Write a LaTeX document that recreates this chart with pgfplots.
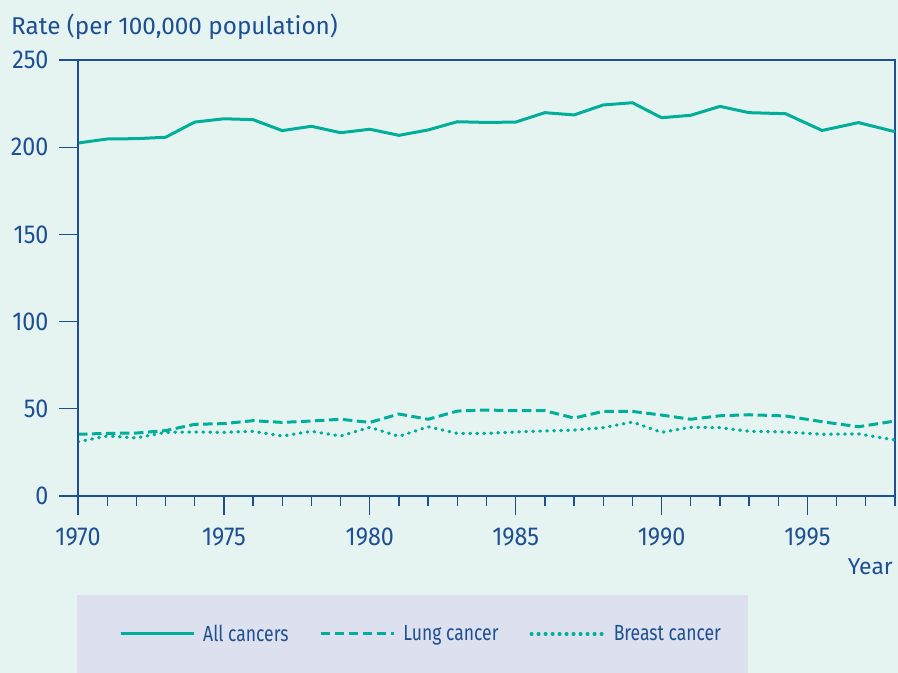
\documentclass[border=0pt]{standalone}
\usepackage{fontspec}
\setmainfont{Fira Sans}
\newfontfamily\condfont{Fira Sans}[FakeStretch=0.9]
\newfontfamily\legfont{Fira Sans}[FakeStretch=0.8]
\usepackage{pgfplots}
\pgfplotsset{compat=1.18}
\definecolor{bgc}{HTML}{E6F4F1}
\definecolor{legbg}{HTML}{DDE0EE}
\definecolor{tealc}{HTML}{00AE9A}
\definecolor{axblue}{HTML}{1D4F93}

\pgfplotstableread{
year all lung breast
1970 202.4 35.4 31.1
1971 204.7 35.9 34.4
1972 204.9 36.1 33.3
1973 205.7 37.5 36.5
1974 214.4 41.1 36.7
1975 216.3 41.5 36.5
1976 215.8 43.2 37.1
1977 209.5 42.2 34.4
1978 212.0 43.0 37.1
1979 208.3 44.0 34.4
1980 210.3 42.2 39.4
1981 206.8 47.0 34.2
1982 209.9 44.0 39.7
1983 214.6 48.7 35.9
1984 214.2 49.3 35.9
1985 214.4 48.9 36.7
1986 219.8 48.9 37.3
1987 218.5 44.7 37.8
1988 224.2 48.5 39.2
1989 225.5 48.5 42.4
1990 216.9 46.4 36.5
1991 218.3 44.0 39.4
1992 223.4 46.0 39.2
1993 219.8 46.6 37.1
1994.25 219.2 45.9 36.7
1995.5 209.6 42.6 35.4
1996.75 214.1 39.7 35.6
1998 208.9 43.0 32.1
}\datatable

\begin{document}
\begin{tikzpicture}
\fill[bgc] (-78bp,-177bp) rectangle (820bp,496bp);
\useasboundingbox (-78bp,-177bp) rectangle (820bp,496bp);
\fill[legbg] (-1bp,-99bp) rectangle (670bp,-177bp);
\begin{axis}[
  at={(0bp,0bp)}, anchor=south west,
  scale only axis, width=817bp, height=436bp,
  xmin=1970, xmax=1998, ymin=0, ymax=250,
  xtick={1970,1975,1980,1985,1990,1995},
  minor xtick={1970,1971,...,1998},
  ytick={0,50,100,150,200,250},
  tick align=outside,
  xtick pos=lower, ytick pos=left,
  major tick length=19bp, minor tick length=10bp,
  tick style={axblue, line width=1.3bp},
  axis line style={axblue, line width=1.2bp},
  /pgf/number format/assume math mode=true,
  /pgf/number format/1000 sep={},
  ticklabel style={font=\condfont\fontsize{26}{26}\selectfont, text=axblue},
  xticklabel style={yshift=-9bp},
  yticklabel style={xshift=-7bp},
  legend columns=3,
  legend cell align=left,
  legend style={at={(axis description cs:0.0502,-0.3165)}, anchor=west,
    draw=none, fill=none, inner sep=0pt,
    font=\legfont\fontsize{22}{22}\selectfont, text=axblue,
    nodes={inner sep=0pt},
    /tikz/every odd column/.append style={column sep=8bp},
    /tikz/every even column/.append style={column sep=31bp}},
  legend image code/.code={\draw[#1] (0bp,0bp) -- (73bp,0bp);},
  after end axis/.code={\draw[axblue, line width=2.6bp] (rel axis cs:0,0) -- (rel axis cs:0,1);
     \draw[axblue, line width=2bp] (rel axis cs:0,0) -- (rel axis cs:1,0);},
]
\addplot[tealc, line width=3bp, line join=round] table[x=year, y=all] {\datatable};
\addlegendentry{All cancers}
\addplot[tealc, line width=3bp, dash pattern=on 9.5bp off 4.5bp] table[x=year, y=lung] {\datatable};
\addlegendentry{Lung cancer}
\addplot[tealc, line width=3.2bp, line cap=round, dash pattern=on 0.8bp off 6.2bp] table[x=year, y=breast] {\datatable};
\addlegendentry{Breast cancer}
\end{axis}
\node[anchor=base west, inner sep=0pt, text=axblue, font=\fontsize{24.4}{24.4}\selectfont] at (-67bp,461bp) {Rate (per 100,000 population)};
\node[anchor=base east, inner sep=0pt, text=axblue, font=\fontsize{23}{23}\selectfont] at (815bp,-78bp) {Year};
\end{tikzpicture}
\end{document}
